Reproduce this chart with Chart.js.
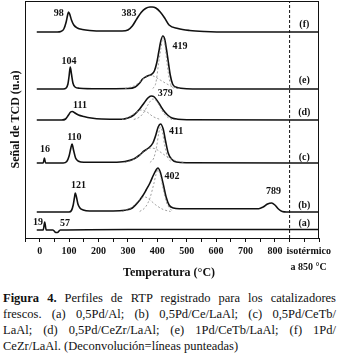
<!DOCTYPE html>
<html>
<head>
<meta charset="utf-8">
<script src="https://cdn.jsdelivr.net/npm/chart.js@4.4.1/dist/chart.umd.min.js"></script>
<style>
  html, body { margin: 0; padding: 0; background: #fff; }
  body { width: 340px; height: 357px; position: relative; overflow: hidden; }
  #wrap { position: absolute; left: 0; top: 0; width: 340px; height: 280px; }
  #caption {
    position: absolute; left: 3px; top: 290px; width: 333px;
    font-family: "Liberation Serif", "Times New Roman", serif;
    font-size: 12.5px; line-height: 16px; color: #111;
  }
  #caption div { text-align: justify; text-align-last: justify; white-space: nowrap; }
  #caption div.last { text-align-last: left; }
</style>
</head>
<body>
<div id="wrap"><canvas id="tpr"></canvas></div>
<div id="caption">
  <div><b>Figura 4.</b> Perfiles de RTP registrado para los catalizadores</div>
  <div>frescos. (a) 0,5Pd/Al; (b) 0,5Pd/Ce/LaAl; (c) 0,5Pd/CeTb/</div>
  <div>LaAl; (d) 0,5Pd/CeZr/LaAl; (e) 1Pd/CeTb/LaAl; (f) 1Pd/</div>
  <div class="last">CeZr/LaAl. (Deconvolución=líneas punteadas)</div>
</div>
<script>
// TPR profiles, signal (arbitrary units above each baseline)
const fT = [-10, 60, 72, 82, 90, 95, 98, 102, 108, 116, 128, 145, 170, 220, 280, 300, 315, 330, 345, 360, 375, 383, 395, 410, 425, 440, 470, 510, 560, 650, 950];
const fS = [0, 0, 0.5, 3, 10, 17, 20, 18, 12, 7, 4, 2.5, 1.5, 1, 1, 2, 6, 13, 19.5, 23.5, 25, 25, 24, 20, 14, 7, 3.5, 1.5, 0.5, 0, 0];

const eT = [-10, 80, 90, 96, 100, 104, 108, 113, 120, 135, 200, 300, 325, 340, 350, 360, 370, 380, 390, 398, 405, 412, 419, 425, 431, 437, 444, 452, 462, 480, 520, 950];
const eS = [0, 0, 1, 5, 13, 22, 15, 6, 2, 0.8, 0.3, 0.5, 2, 6, 10, 12, 13.5, 14.5, 18, 26, 37, 48, 53, 50, 40, 28, 14, 5, 2, 0.8, 0, 0];

const dT = [-10, 75, 88, 98, 105, 111, 120, 132, 150, 175, 210, 280, 300, 320, 340, 355, 368, 379, 390, 405, 420, 435, 450, 470, 500, 950];
const dS = [0, 0, 1, 5, 8, 8.5, 7, 5, 3.5, 2, 1, 0.8, 2, 5, 11, 17, 22, 24, 23, 17, 10, 5, 2, 0.8, 0.3, 0];

const cT = [-10, 12, 16, 20, 80, 92, 100, 106, 110, 115, 122, 132, 150, 250, 290, 320, 340, 355, 370, 385, 395, 403, 411, 420, 428, 437, 448, 465, 500, 950];
const cS = [0, 0, 5, 0, 0, 1.5, 7, 15, 19, 13, 5, 1.8, 0.8, 0.8, 1.5, 4, 8, 12, 15, 20, 28, 36, 39, 34, 22, 10, 4, 1, 0.3, 0];

const bT = [-10, 100, 108, 114, 118, 121, 125, 130, 137, 148, 170, 250, 290, 315, 335, 350, 362, 375, 387, 396, 402, 410, 420, 430, 440, 455, 475, 550, 650, 745, 760, 775, 789, 800, 812, 825, 840, 950];
const bS = [0, 0, 1.5, 7, 14, 19, 15, 8, 4, 2, 1, 1, 1.8, 4, 10, 16, 22, 29, 37, 42, 44, 40, 28, 15, 7, 4, 3.3, 3.3, 3.3, 3.3, 5, 8, 9, 7, 3, 0.5, 0, 0];

const aT = [-10, 12, 17, 22, 45, 55, 60, 70, 300, 950];
const aS = [0, 0, 8, 0, 0, -2.5, -2.5, 0, 0.5, 0.5];

// Deconvolution components (dotted)
const e1T = [290, 320, 340, 355, 372, 390, 410, 430, 450, 475];
const e1S = [0.5, 3, 7, 11, 14, 12.5, 9, 5.5, 2.5, 0.5];
const e2T = [385, 395, 405, 412, 419, 426, 433, 442, 455];
const e2S = [0.5, 6, 27, 40, 52, 44, 26, 8, 0.5];
const d1T = [280, 305, 325, 345, 365, 385, 410];
const d1S = [0.5, 3, 7, 10, 8, 3.5, 0.5];
const d2T = [320, 340, 355, 370, 385, 400, 415, 430, 450];
const d2S = [0.5, 3, 8, 16, 21, 18, 10, 4, 0.5];
const c1T = [290, 315, 340, 360, 378, 395, 415, 435, 460, 490];
const c1S = [0.5, 3, 8, 12.5, 15, 14, 10, 6, 2.5, 0.5];
const c2T = [375, 388, 398, 405, 411, 418, 425, 435, 450];
const c2S = [0.5, 5, 17, 30, 36, 30, 18, 6, 0.5];
const b1T = [280, 305, 325, 342, 358, 375, 395, 420, 445];
const b1S = [0.5, 3, 8, 13, 15, 12, 7, 2.5, 0.5];
const b2T = [340, 360, 375, 388, 396, 402, 410, 420, 432, 450];
const b2S = [0.5, 5, 14, 28, 38, 42, 37, 23, 9, 1];

// vertical stacking of the six profiles
const offsets = { a: 8, b: 26, c: 75, d: 118, e: 149, f: 206 };

// peak labels: [text, temperature, height]
const peakLabels = [
  ['98', 65, 224.5], ['383', 304, 224.5],
  ['104', 100, 177], ['419', 477, 192],
  ['111', 137, 133], ['379', 427, 145],
  ['16', 18, 88.5], ['110', 118, 100.5], ['411', 464, 107],
  ['121', 132, 53], ['402', 450, 62], ['789', 795, 46.5],
  ['19', -6, 16], ['57', 86, 14.5],
];
const panelLabels = [['(f)', 214], ['(e)', 158], ['(d)', 126], ['(c)', 81], ['(b)', 33], ['(a)', 15]];

const serif = '"Liberation Serif", "Times New Roman", serif';

const pts = (t, s, off) => t.map((x, i) => ({ x, y: s[i] + off }));

const profile = (t, s, off) => ({
  data: pts(t, s, off),
  borderColor: '#111',
  borderWidth: 1.6,
  pointRadius: 0,
  cubicInterpolationMode: 'monotone',
  fill: false,
});
const component = (t, s, off) => ({
  data: pts(t, s, off),
  borderColor: '#888',
  borderWidth: 0.8,
  borderDash: [2, 2],
  pointRadius: 0,
  cubicInterpolationMode: 'monotone',
  fill: false,
});

const textPlugin = {
  id: 'tprText',
  afterDraw(c) {
    const ctx = c.ctx;
    const a = c.chartArea;
    const xs = c.scales.x;
    const ys = c.scales.y;
    ctx.save();
    // frame
    ctx.strokeStyle = '#111';
    ctx.lineWidth = 1;
    ctx.strokeRect(a.left + 0.5, a.top + 0.5, a.right - a.left - 1, a.bottom - a.top);
    ctx.fillStyle = '#111';
    ctx.textAlign = 'center';
    ctx.textBaseline = 'middle';
    ctx.font = 'bold 10px ' + serif;
    peakLabels.forEach(([txt, t, v]) => {
      ctx.fillText(txt, xs.getPixelForValue(t), ys.getPixelForValue(v));
    });
    panelLabels.forEach(([txt, v]) => {
      ctx.fillText(txt, xs.getPixelForValue(900), ys.getPixelForValue(v));
    });
    // isothermal note
    ctx.font = 'bold 10px ' + serif;
    ctx.fillText('isotérmico', xs.getPixelForValue(915), a.bottom + 13);
    ctx.fillText('a 850 °C', xs.getPixelForValue(915), a.bottom + 29);
    // axis titles
    ctx.font = 'bold 12px ' + serif;
    ctx.fillText('Temperatura (°C)', xs.getPixelForValue(440), a.bottom + 35);
    ctx.translate(16, (a.top + a.bottom) / 2);
    ctx.rotate(-Math.PI / 2);
    ctx.fillText('Señal de TCD (u.a)', 0, 0);
    ctx.restore();
  },
};

new Chart(document.getElementById('tpr'), {
  type: 'line',
  data: {
    datasets: [
      component(e1T, e1S, offsets.e), component(e2T, e2S, offsets.e),
      component(d1T, d1S, offsets.d), component(d2T, d2S, offsets.d),
      component(c1T, c1S, offsets.c), component(c2T, c2S, offsets.c),
      component(b1T, b1S, offsets.b), component(b2T, b2S, offsets.b),
      profile(fT, fS, offsets.f),
      profile(eT, eS, offsets.e),
      profile(dT, dS, offsets.d),
      profile(cT, cS, offsets.c),
      profile(bT, bS, offsets.b),
      profile(aT, aS, offsets.a),
      // isothermal marker at 850 °C
      {
        data: [{ x: 850, y: 0 }, { x: 850, y: 237 }],
        borderColor: '#111',
        borderWidth: 1,
        borderDash: [3, 2],
        pointRadius: 0,
      },
    ],
  },
  options: {
    responsive: true,
    maintainAspectRatio: false,
    animation: false,
    layout: { padding: { left: 25, right: 21, top: 1, bottom: 20 } },
    scales: {
      x: {
        type: 'linear',
        min: -50,
        max: 950,
        afterFit: (s) => { s.height = 22; },
        grid: { drawOnChartArea: false, tickLength: 4, color: '#111' },
        border: { color: '#111', width: 1 },
        ticks: {
          stepSize: 50,
          autoSkip: false,
          maxRotation: 0,
          padding: 3,
          color: '#111',
          font: { family: serif, size: 10, weight: 'bold' },
          callback: (v) => (v % 100 === 0 && v >= 0 && v <= 800 ? String(v) : ''),
        },
      },
      y: { display: false, min: 0, max: 237 },
    },
    plugins: {
      legend: { display: false },
      tooltip: { enabled: false },
    },
  },
  plugins: [textPlugin],
});
</script>
</body>
</html>
